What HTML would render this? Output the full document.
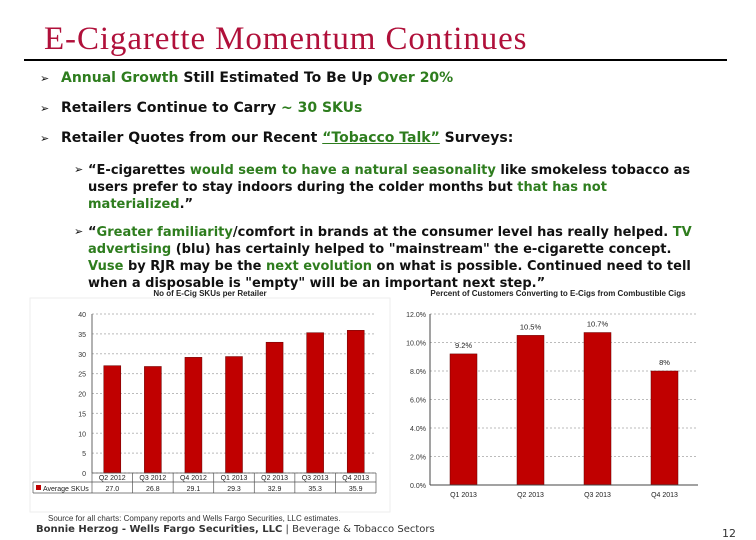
<!DOCTYPE html>
<html><head><meta charset="utf-8"><style>
body{margin:0;width:756px;height:540px;background:#fff;position:relative;overflow:hidden;font-family:"DejaVu Sans","Liberation Sans",sans-serif}
.t{position:absolute;white-space:nowrap;font-weight:bold;font-size:13px;color:#111}
.tb{font-size:14px}
.g{color:#2e7d1e}
.ar{position:absolute;font-size:11px;color:#111}
</style></head><body>
<div style="position:absolute;left:44px;top:21px;font-family:'Liberation Serif',serif;font-size:33px;letter-spacing:0.9px;color:#b0103a;white-space:nowrap">E-Cigarette Momentum Continues</div>
<div style="position:absolute;left:24px;top:59px;width:703px;height:2px;background:#000"></div>
<div><span class="ar" style="left:40px;top:72px">➢</span><span class="t tb" style="left:61px;top:70px"><span class="g">Annual Growth</span> Still Estimated To Be Up <span class="g">Over 20%</span></span></div>
<div><span class="ar" style="left:40px;top:102px">➢</span><span class="t tb" style="left:61px;top:100px">Retailers Continue to Carry <span class="g">~ 30 SKUs</span></span></div>
<div><span class="ar" style="left:40px;top:132px">➢</span><span class="t tb" style="left:61px;top:130px">Retailer Quotes from our Recent <span class="g" style="text-decoration:underline">“Tobacco Talk”</span> Surveys:</span></div>
<div><span class="ar" style="left:74px;top:163px">➢</span>
<span class="t" style="left:88px;top:162px;line-height:17px">“E-cigarettes <span class="g">would seem to have a natural seasonality</span> like smokeless tobacco as<br>users prefer to stay indoors during the colder months but <span class="g">that has not<br>materialized</span>.”</span></div>
<div><span class="ar" style="left:74px;top:225px">➢</span>
<span class="t" style="left:88px;top:224px;line-height:17px">“<span class="g">Greater familiarity</span>/comfort in brands at the consumer level has really helped. <span class="g">TV<br>advertising</span> (blu) has certainly helped to "mainstream" the e-cigarette concept.<br><span class="g">Vuse</span> by RJR may be the <span class="g">next evolution</span> on what is possible. Continued need to tell<br>when a disposable is "empty" will be an important next step.”</span></div>

<svg id="c1" width="756" height="540" style="position:absolute;left:0;top:0" font-family="Liberation Sans, sans-serif"></svg>

<div style="position:absolute;left:48px;top:514px;font-size:8px;color:#333;font-family:'Liberation Sans',sans-serif;white-space:nowrap">Source for all charts: Company reports and Wells Fargo Securities, LLC estimates.</div>
<div style="position:absolute;left:36px;top:524px;font-size:10px;color:#333;white-space:nowrap"><b>Bonnie Herzog - Wells Fargo Securities, LLC</b> | Beverage &amp; Tobacco Sectors</div>
<div style="position:absolute;left:722px;top:527px;font-size:11px;color:#333">12</div>

<script>
const skuCats=["Q2 2012","Q3 2012","Q4 2012","Q1 2013","Q2 2013","Q3 2013","Q4 2013"];
const skuVals=[27.0,26.8,29.1,29.3,32.9,35.3,35.9];
const skuTicks=[0,5,10,15,20,25,30,35,40];
const convCats=["Q1 2013","Q2 2013","Q3 2013","Q4 2013"];
const convVals=[9.2,10.5,10.7,8.0];
const convLabels=["9.2%","10.5%","10.7%","8%"];
const convTicks=[0,2,4,6,8,10,12];

const svg=document.getElementById('c1');
const NS='http://www.w3.org/2000/svg';
function mk(tag,a,txt){const e=document.createElementNS(NS,tag);for(const k in a)e.setAttribute(k,a[k]);if(txt!=null)e.textContent=txt;svg.appendChild(e);return e;}

// left chart
const L={x0:92,x1:376,yTop:314,yBot:473,max:40};
const ly=v=>L.yBot-(v/L.max)*(L.yBot-L.yTop);
const lw=(L.x1-L.x0)/skuCats.length;
let e=mk('rect',{x:30,y:298,width:360,height:214,fill:'none',stroke:'#eee'});

e=mk('text',{x:210,y:296,'font-size':8,'font-weight':'bold','text-anchor':'middle',fill:'#222'},'No of E-Cig SKUs per Retailer');

skuTicks.forEach(t=>{
  const g=mk('line',{x1:L.x0,x2:L.x1,y1:ly(t),y2:ly(t),stroke:'#bbb','stroke-dasharray':'2,2'});
  
  const tx=mk('text',{x:L.x0-6,y:ly(t)+3,'font-size':7,'text-anchor':'end',fill:'#333'},t);
  
});
skuVals.forEach((v,i)=>{
  const cx=L.x0+lw*(i+0.5);
  const b=mk('rect',{x:cx-8.5,y:ly(v),width:17,height:L.yBot-ly(v),fill:'#c00000',stroke:'#600',"stroke-width":0.5});
  
  const c=mk('text',{x:cx,y:480,'font-size':7,'text-anchor':'middle',fill:'#222'},skuCats[i]);
  
  const d=mk('text',{x:cx,y:491,'font-size':7,'text-anchor':'middle',fill:'#222'},v.toFixed(1));
  
});
e=mk('line',{x1:L.x0,x2:L.x0,y1:L.yTop,y2:L.yBot,stroke:'#666'});
[L.yBot,482,493].forEach(y=>{const l=mk('line',{x1:y===L.yBot?L.x0:33,x2:L.x1,y1:y,y2:y,stroke:'#555','stroke-width':0.7});});
for(let i=0;i<=skuCats.length;i++){const l=mk('line',{x1:L.x0+lw*i,x2:L.x0+lw*i,y1:L.yBot,y2:493,stroke:'#555','stroke-width':0.7});}
e=mk('line',{x1:33,x2:33,y1:482,y2:493,stroke:'#555','stroke-width':0.7});
e=mk('rect',{x:36,y:485,width:5,height:5,fill:'#c00000'});
e=mk('text',{x:43,y:491,'font-size':7,fill:'#222'},'Average SKUs');

// right chart
const R={x0:430,x1:698,yTop:314,yBot:485,max:12};
const ry=v=>R.yBot-(v/R.max)*(R.yBot-R.yTop);
const rw=(R.x1-R.x0)/convCats.length;
e=mk('text',{x:558,y:296,'font-size':8,'font-weight':'bold','text-anchor':'middle',fill:'#222'},'Percent of Customers Converting to E-Cigs from Combustible Cigs');

convTicks.forEach(t=>{
  if(t>0){const g=mk('line',{x1:R.x0,x2:R.x1,y1:ry(t),y2:ry(t),stroke:'#bbb','stroke-dasharray':'2,2'});}
  const tx=mk('text',{x:R.x0-4,y:ry(t)+3,'font-size':7,'text-anchor':'end',fill:'#333'},t.toFixed(1)+'%');
  
});
convVals.forEach((v,i)=>{
  const cx=R.x0+rw*(i+0.5);
  const b=mk('rect',{x:cx-13.5,y:ry(v),width:27,height:R.yBot-ry(v),fill:'#c00000',stroke:'#600','stroke-width':0.5});
  
  const lb=mk('text',{x:cx,y:ry(v)-6,'font-size':7.5,'text-anchor':'middle',fill:'#222'},convLabels[i]);
  
  const c=mk('text',{x:cx,y:497,'font-size':7,'text-anchor':'middle',fill:'#222'},convCats[i]);
  
});
e=mk('line',{x1:R.x0,x2:R.x0,y1:R.yTop,y2:R.yBot,stroke:'#444'});
e=mk('line',{x1:R.x0,x2:R.x1,y1:R.yBot,y2:R.yBot,stroke:'#444'});
</script>
</body></html>
